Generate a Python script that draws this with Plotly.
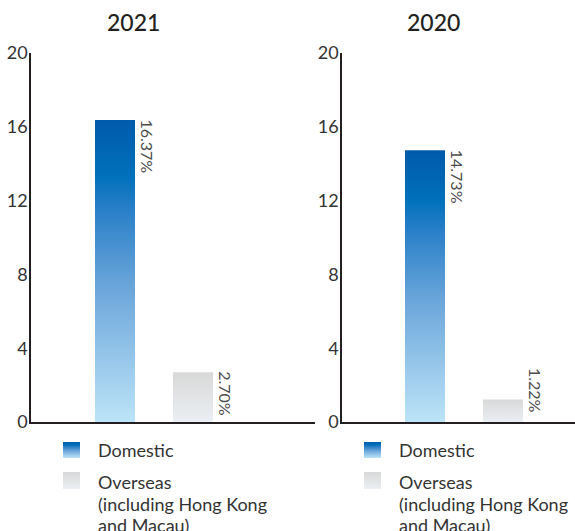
import plotly.graph_objects as go

# ---- data ----
years = ["2021", "2020"]
categories = ["Domestic", "Overseas"]
values_2021 = [16.37, 2.70]
values_2020 = [14.73, 1.22]
value_labels_2021 = ["16.37%", "2.70%"]
value_labels_2020 = ["14.73%", "1.22%"]
y_ticks = [0, 4, 8, 12, 16, 20]
legend_lines = [["Domestic"], ["Overseas", "(including Hong Kong", "and Macau)"]]

W, H = 575, 531
FONT = "Lato"
TXT = "#333333"
AX = "#231f20"

blue_scale = [[0.0, "#bde4f8"], [0.45, "#6aa5da"], [0.7, "#2a80c8"],
              [0.82, "#0070bb"], [1.0, "#005aab"]]
gray_scale = [[0.0, "#ebeff3"], [1.0, "#d8d8d8"]]
scales = [blue_scale, gray_scale]

BAR_W = 40 / 78  # bar width in category units
MIN_LABEL_TOP = 2.7  # labels of short bars sit on the baseline

def px_x(p):
    return p / W

def px_y(p):
    return 1 - p / H

fig = go.Figure()

panels = [
    dict(vals=values_2021, labs=value_labels_2021, xa="x", ya="y",
         dom=(31, 315), rng=[-84 / 78, 200 / 78], title=years[0], cx=133),
    dict(vals=values_2020, labs=value_labels_2020, xa="x2", ya="y2",
         dom=(342, 575), rng=[-83 / 78, 150 / 78], title=years[1], cx=433),
]

for p in panels:
    for i, v in enumerate(p["vals"]):
        x0, x1 = i - BAR_W / 2, i + BAR_W / 2
        fig.add_trace(go.Scatter(
            x=[x0, x0, x1, x1, x0], y=[0, v, v, 0, 0],
            xaxis=p["xa"], yaxis=p["ya"], mode="lines", line=dict(width=0),
            fill="toself",
            fillgradient=dict(type="vertical", colorscale=scales[i]),
            hoverinfo="skip", showlegend=False))
        if v >= MIN_LABEL_TOP:
            ly, yanc, ysh = v, "top", 3
        else:
            ly, yanc, ysh = 0, "bottom", 7
        fig.add_annotation(
            x=x1, y=ly, xref=p["xa"], yref=p["ya"], text=p["labs"][i],
            textangle=90, xanchor="left", yanchor=yanc, showarrow=False,
            xshift=1, yshift=ysh,
            font=dict(family=FONT, size=16, color="#4d4d4d"))
    fig.add_annotation(
        x=px_x(p["cx"]), y=px_y(22), xref="paper", yref="paper",
        text=p["title"], showarrow=False, xanchor="center", yanchor="middle",
        font=dict(family=FONT, size=23, color="#231f20", weight=500))

axis_common = dict(showgrid=False, zeroline=False, fixedrange=True,
                   automargin=False)
tick_font = dict(family=FONT, size=18, color=TXT)
fig.update_layout(
    xaxis=dict(domain=[px_x(31), px_x(315)], range=panels[0]["rng"],
               showticklabels=False, showline=True, linecolor=AX, linewidth=1.5,
               anchor="y", **axis_common),
    yaxis=dict(domain=[px_y(422), px_y(53)], range=[0, 20], tickvals=y_ticks,
               showline=True, linecolor=AX, linewidth=1.5, ticks="",
               ticklabelstandoff=-2, anchor="x", tickfont=tick_font,
               **axis_common),
    xaxis2=dict(domain=[px_x(342), px_x(575)], range=panels[1]["rng"],
                showticklabels=False, showline=True, linecolor=AX, linewidth=1.5,
                anchor="y2", **axis_common),
    yaxis2=dict(domain=[px_y(422), px_y(53)], range=[0, 20], tickvals=y_ticks,
                showline=True, linecolor=AX, linewidth=1.5, ticks="",
                ticklabelstandoff=-2, anchor="x2", tickfont=tick_font,
                **axis_common),
    # overlay axes in pixel units for the legend
    xaxis3=dict(domain=[0, 1], range=[0, W], visible=False, anchor="y3",
                **axis_common),
    yaxis3=dict(domain=[0, 1], range=[H, 0], visible=False, anchor="x3",
                **axis_common),
)

# custom legends
legend_x = [63, 364]
swatch_y = [(442, 458), (472, 489)]
text_y = [[450], [482, 503.5, 525]]
for lx in legend_x:
    for i in range(2):
        y0, y1 = swatch_y[i]
        fig.add_trace(go.Scatter(
            x=[lx, lx, lx + 17, lx + 17, lx], y=[y1, y0, y0, y1, y1],
            xaxis="x3", yaxis="y3", mode="lines", line=dict(width=0),
            fill="toself",
            fillgradient=dict(type="vertical", colorscale=scales[i]),
            hoverinfo="skip", showlegend=False))
        for line, ty in zip(legend_lines[i], text_y[i]):
            fig.add_annotation(
                x=lx + 33, y=ty, xref="x3", yref="y3",
                text=line, showarrow=False, xanchor="left", yanchor="middle",
                font=dict(family=FONT, size=18, color=TXT))

fig.update_layout(
    width=W, height=H, margin=dict(l=0, r=0, t=0, b=0),
    paper_bgcolor="white", plot_bgcolor="rgba(0,0,0,0)",
    showlegend=False,
)

fig.write_html("out.html", config={"displayModeBar": False},
               post_script="document.body.style.margin='0';"
                           "document.body.style.overflow='hidden';")
